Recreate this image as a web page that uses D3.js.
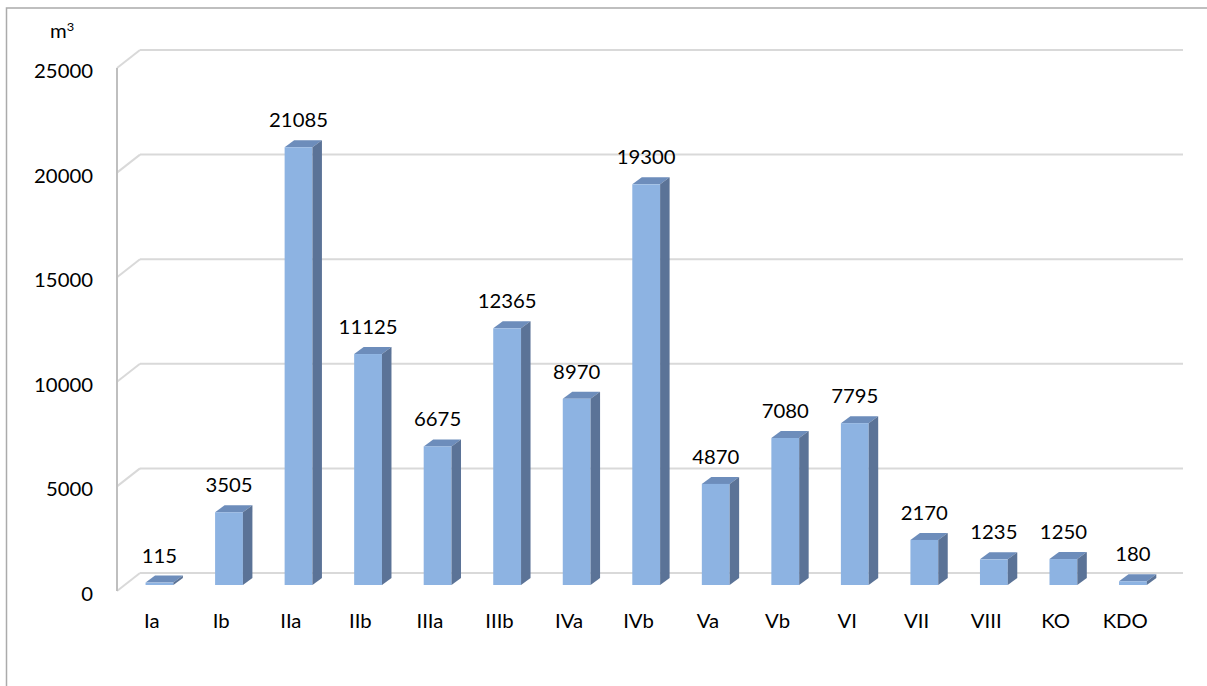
<!DOCTYPE html>
<html>
<head>
<meta charset="utf-8">
<script src="https://cdn.jsdelivr.net/npm/d3@7"></script>
<style>
  body { margin: 0; background: #fff; }
  text { font-family: Lato, "Open Sans", sans-serif; font-size: 19px; font-weight: 400; fill: #000; }
</style>
</head>
<body>
<div id="chart"></div>
<script>
const categories = ["Ia", "Ib", "IIa", "IIb", "IIIa", "IIIb", "IVa", "IVb", "Va", "Vb", "VI", "VII", "VIII", "KO", "KDO"];
const values = [115, 3505, 21085, 11125, 6675, 12365, 8970, 19300, 4870, 7080, 7795, 2170, 1235, 1250, 180];
const yTicks = [0, 5000, 10000, 15000, 20000, 25000];

const W = 1207, H = 686;
const stretch = 1.07; // text in the picture is a bit wider than normal

// front plane of the plot, the back wall sits at an offset
const left = 117, right = 1160;
const wall = { dx: 23, dy: -18 };
const barOff = { dx: 7.7, dy: -6 };   // where the bar front faces sit
const barDepth = { dx: 9.5, dy: -7 };

const svg = d3.select("#chart")
  .append("svg")
  .attr("width", W)
  .attr("height", H);

svg.append("rect")
  .attr("width", W).attr("height", H)
  .attr("fill", "#fff");

// frame
svg.append("rect")
  .attr("x", 6.5).attr("y", 8)
  .attr("width", W).attr("height", H)
  .attr("fill", "none")
  .attr("stroke", "#ababab")
  .attr("stroke-width", 1.5);

const x = d3.scaleBand()
  .domain(categories)
  .range([left, right])
  .paddingInner(0.6)
  .paddingOuter(0.3);

const xCat = d3.scaleBand().domain(categories).range([left, right]);

const y = d3.scaleLinear().domain([0, 25000]).range([591, 68]);
const yBar = d3.scaleLinear().domain([0, 25000]).range([591 + barOff.dy, 66]);

// gridlines on the back wall + diagonals on the left wall
yTicks.forEach(t => {
  const yy = y(t);
  svg.append("line")
    .attr("x1", left + wall.dx).attr("x2", right + wall.dx)
    .attr("y1", yy + wall.dy).attr("y2", yy + wall.dy)
    .attr("stroke", "#d9d9d9").attr("stroke-width", 2);
  svg.append("line")
    .attr("x1", left).attr("x2", left + wall.dx)
    .attr("y1", yy).attr("y2", yy + wall.dy)
    .attr("stroke", "#d9d9d9").attr("stroke-width", 2);
});

// left wall edge
svg.append("line")
  .attr("x1", left).attr("x2", left)
  .attr("y1", y(25000)).attr("y2", y(0))
  .attr("stroke", "#bfbfbf").attr("stroke-width", 2);

// y tick labels
yTicks.forEach(t => {
  svg.append("text")
    .attr("transform", `translate(93,${y(t) + 10}) scale(${stretch},1)`)
    .attr("text-anchor", "end")
    .text(t);
});

// unit
const unit = svg.append("text")
  .attr("transform", `translate(50,38) scale(${stretch},1)`);
unit.append("tspan").text("m");
unit.append("tspan").attr("dy", -7).style("font-size", "12px").text("3");

// bars
const bars = svg.selectAll(".bar")
  .data(categories.map((c, i) => ({ cat: c, v: values[i] })))
  .enter()
  .append("g")
  .attr("class", "bar");

bars.each(function(d) {
  const g = d3.select(this);
  const x0 = x(d.cat) + barOff.dx;
  const x1 = x0 + x.bandwidth();
  const yb = yBar(0);
  const yt = yBar(d.v);
  const dx = barDepth.dx, dy = barDepth.dy;

  // top
  g.append("path")
    .attr("d", `M${x0},${yt}L${x0 + dx},${yt + dy}L${x1 + dx},${yt + dy}L${x1},${yt}Z`)
    .attr("fill", "#6d8dbb");
  // front
  g.append("rect")
    .attr("x", x0).attr("y", yt)
    .attr("width", x1 - x0).attr("height", Math.max(yb - yt, 0))
    .attr("fill", "#8db3e2");
  // side
  g.append("path")
    .attr("d", `M${x1},${yt}L${x1 + dx},${yt + dy}L${x1 + dx},${yb + dy}L${x1},${yb}Z`)
    .attr("fill", "#5b7397");

  // value label, centred on the front face
  g.append("text")
    .attr("transform", `translate(${(x0 + x1) / 2},${yt + dy - 13}) scale(${stretch},1)`)
    .attr("text-anchor", "middle")
    .text(d.v);
});

// category labels
categories.forEach(c => {
  svg.append("text")
    .attr("transform", `translate(${xCat(c) + xCat.bandwidth() / 2},628) scale(${stretch},1)`)
    .attr("text-anchor", "middle")
    .text(c);
});
</script>
</body>
</html>
